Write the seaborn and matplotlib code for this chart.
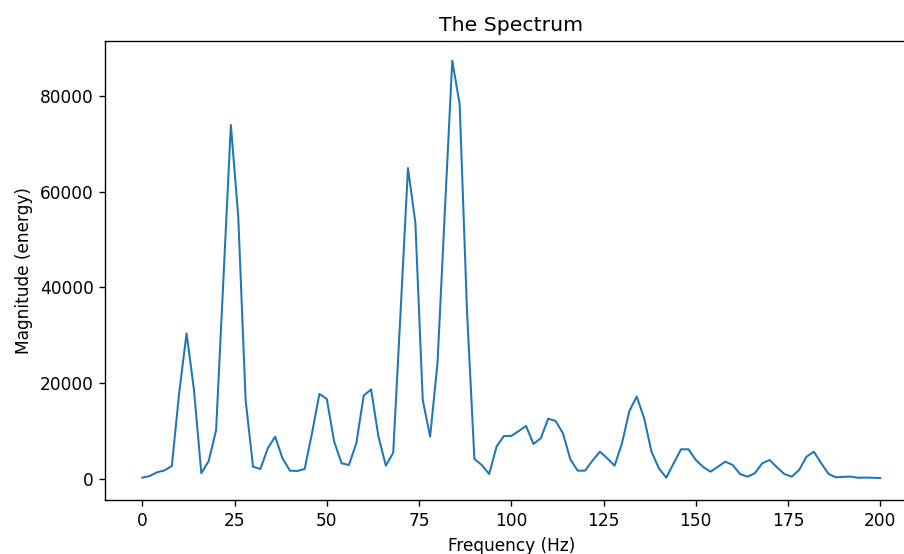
import matplotlib
matplotlib.use("Agg")
import matplotlib.pyplot as plt
import seaborn as sns
import numpy as np
import pandas as pd

frequency_hz = list(range(0, 201, 2))
magnitude = [
    270, 620, 1400, 1800, 2700, 18000, 30400, 18600, 1200, 3760,
    10200, 42000, 73900, 54800, 16500, 2570, 2090, 6400, 8840, 4320,
    1740, 1670, 2090, 9600, 17750, 16700, 7800, 3280, 2920, 7450,
    17400, 18700, 8840, 2780, 5500, 35000, 64900, 53500, 16500, 8840,
    24200, 56000, 87300, 78300, 35000, 4180, 2920, 1040, 6750, 8980,
    8980, 10000, 11070, 7310, 8500, 12600, 12100, 9540, 4110, 1740,
    1740, 3830, 5700, 4320, 2780, 7450, 14200, 17200, 12680, 5700,
    2230, 270, 3280, 6200, 6200, 3970, 2500, 1530, 2570, 3620,
    2920, 1040, 480, 1190, 3280, 3970, 2440, 1040, 480, 1880,
    4660, 5700, 3280, 1040, 350, 450, 500, 250, 300, 250,
    200,
]
x_ticks = [0, 25, 50, 75, 100, 125, 150, 175, 200]
y_ticks = [0, 20000, 40000, 60000, 80000]

df = pd.DataFrame({"freq": frequency_hz, "mag": magnitude})

dpi = 122
fig = plt.figure(figsize=(904 / dpi, 554 / dpi), dpi=dpi)
ax = fig.add_axes([105.4 / 904, 54 / 554, (917.2 - 105.4) / 904, (500 - 41) / 554])

sns.lineplot(data=df, x="freq", y="mag", ax=ax, color="#1f77b4", linewidth=1.2)

ax.set_xlim(-10, 210)
ax.set_ylim(-4383, 91420)
ax.set_xticks(x_ticks)
ax.set_yticks(y_ticks)
ax.set_xticklabels([str(t) for t in x_ticks])
ax.set_yticklabels([str(t) for t in y_ticks])
ax.spines["right"].set_visible(False)
ax.set_title("The Spectrum")
ax.set_xlabel("Frequency (Hz)")
ax.set_ylabel("Magnitude (energy)")

fig.savefig("out.png", dpi=dpi)
